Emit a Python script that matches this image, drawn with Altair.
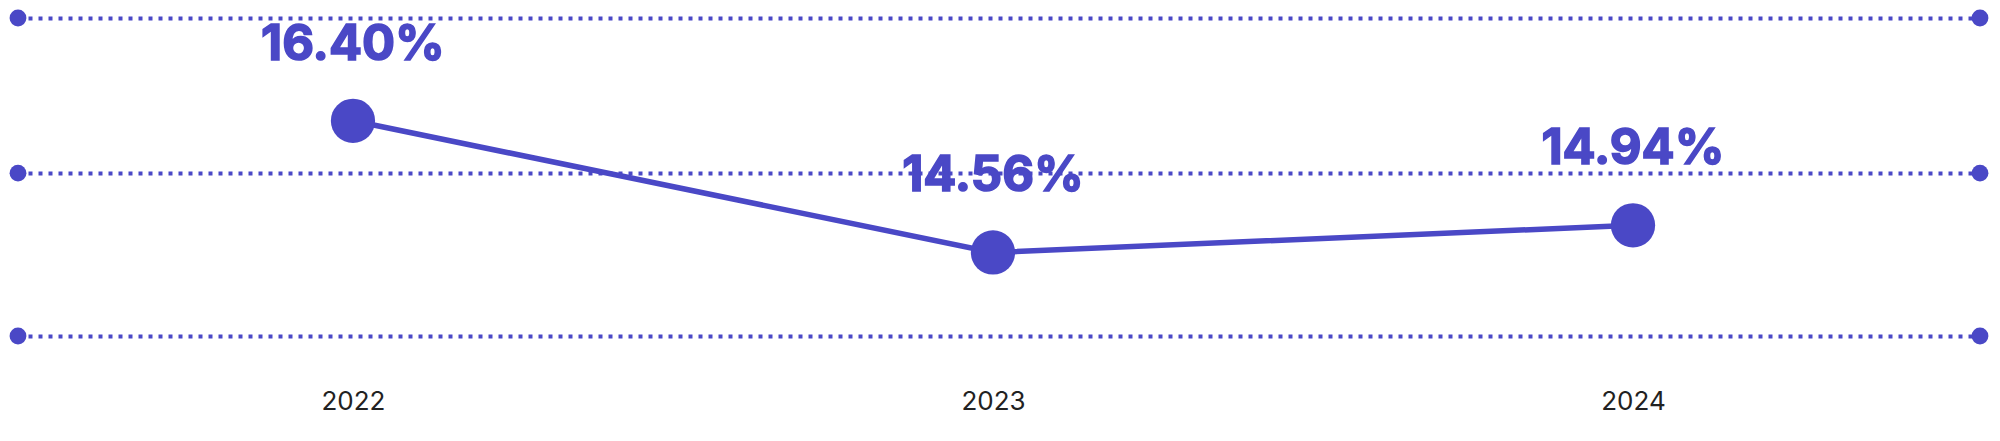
import altair as alt
import pandas as pd

years = [2022, 2023, 2024]
values = [16.40, 14.56, 14.94]
labels = ["16.40%", "14.56%", "14.94%"]
grid_values = [13.393, 15.668, 17.836]

COLOR = "#4a48c6"
X_DOMAIN = [2021.4766, 2024.5422]
Y_DOMAIN = [13.393, 17.836]
W, H = 1962, 318

df = pd.DataFrame({"year": years, "value": values, "label": labels})
gdf = pd.DataFrame({"g": grid_values})

xscale = alt.Scale(domain=X_DOMAIN, nice=False, zero=False)
yscale = alt.Scale(domain=Y_DOMAIN, nice=False, zero=False)
xaxis = alt.Axis(values=years, format="d", title=None, grid=False, ticks=False,
                 domain=False, labelFont="Inter", labelFontSize=26,
                 labelColor="#222222", labelPadding=52, labelFlush=False)
yaxis = alt.Axis(values=grid_values, title=None, labels=False, ticks=False,
                 domain=False, grid=True, gridColor=COLOR, gridWidth=4,
                 gridDash=[4, 6], gridOpacity=1)

x = alt.X("year:Q", scale=xscale, axis=xaxis)
y = alt.Y("value:Q", scale=yscale, axis=yaxis)

base = alt.Chart(df)
line = base.mark_line(color=COLOR, strokeWidth=5.5).encode(x=x, y=y)
pts = base.mark_circle(color=COLOR, opacity=1, size=1960).encode(x=x, y=y)
txt = base.mark_text(fill=COLOR, stroke=COLOR, strokeWidth=1.6, font="Inter",
                     fontWeight="bold", fontSize=49,
                     baseline="alphabetic", dy=-61, align="center").encode(
    x=x, y=y, text="label:N")

gy = alt.Y("g:Q", scale=yscale, axis=yaxis)
left_dots = alt.Chart(gdf).mark_circle(color=COLOR, opacity=1, size=283).encode(
    x=alt.value(0), y=gy)
right_dots = alt.Chart(gdf).mark_circle(color=COLOR, opacity=1, size=283).encode(
    x=alt.value(W), y=gy)

chart = alt.layer(line, pts, left_dots, right_dots, txt).properties(
    width=W, height=H,
    autosize=alt.AutoSizeParams(type="none"),
    padding={"left": 10, "top": 10, "right": 10, "bottom": 90},
).configure(background="white", view=alt.ViewConfig(stroke=None))

chart.save("out.html", embed_options={"renderer": "svg", "actions": False})
